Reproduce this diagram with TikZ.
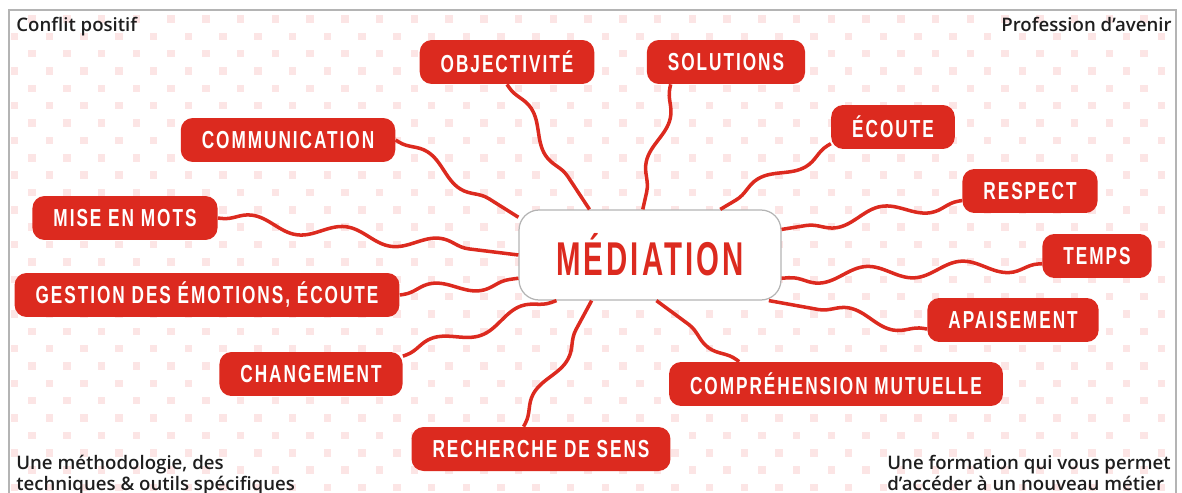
\documentclass[tikz,border=0pt]{standalone}
\usepackage{fontspec}
\setmainfont{Open Sans}[BoldFont={* Semibold}]
\newfontfamily\tagfont{Liberation Sans}[FakeStretch=0.7,LetterSpace=8]
\newfontfamily\hubfont{Liberation Sans}[FakeStretch=0.62,LetterSpace=6.5]
\usetikzlibrary{decorations.pathmorphing}
\definecolor{mapred}{HTML}{DC2A1F}
\definecolor{dotpink}{HTML}{FCE5E5}
\definecolor{framegray}{HTML}{B4B4B4}
\definecolor{inkgray}{HTML}{1E1E1E}

\begin{document}
\begin{tikzpicture}[x=0.02cm, y=-0.02cm,
  tag/.style={fill=mapred, text=white, rounded corners=0.24cm, minimum height=0.88cm, inner xsep=0.42cm,
    font={\tagfont\bfseries\fontsize{14pt}{16pt}\selectfont}},
  hub/.style={draw=framegray, line width=0.7pt, fill=white, rounded corners=0.4cm, minimum width=5.24cm,
    minimum height=1.8cm, text=mapred, font={\hubfont\bfseries\fontsize{27pt}{30pt}\selectfont}},
  wave/.style={draw=mapred, line width=2pt, decorate,
    decoration={snake, segment length=1.9cm, amplitude=0.14cm, pre length=2pt, post length=2pt}},
  note/.style={text=inkgray, inner sep=0pt, align=left, font={\bfseries\fontsize{10.6pt}{12pt}\selectfont}}]

\useasboundingbox (0,0) rectangle (1182,493);

\begin{scope}
\clip (9,10) rectangle (1176,493);
\foreach \r in {0,...,13} \foreach \c in {0,...,33} {
  \fill [dotpink] ({28.25+34.75*\c},{15.25+34.7*\r}) rectangle +(7.5,7.5);
  \fill [dotpink] ({10.85+34.75*\c},{32.6+34.7*\r}) rectangle +(7.5,7.5);
}
\end{scope}
\draw [framegray, line width=0.8pt] (9,493) -- (9,10) -- (1176,10) -- (1176,493);

\node (med) [hub] at (650,255) {MÉDIATION};

\node (obj) [tag] at (507,62) {OBJECTIVITÉ};
\node (sol) [tag] at (726,62) {SOLUTIONS};
\node (ecoute) [tag] at (893,127) {ÉCOUTE};
\node (comm) [tag] at (288,140) {COMMUNICATION};
\node (respect) [tag] at (1030,191) {RESPECT};
\node (mise) [tag] at (125,218) {MISE EN MOTS};
\node (temps) [tag] at (1097,256) {TEMPS};
\node (gestion) [tag] at (207,295) {GESTION DES ÉMOTIONS, ÉCOUTE};
\node (apais) [tag] at (1013,320) {APAISEMENT};
\node (chang) [tag] at (311,374) {CHANGEMENT};
\node (compr) [tag] at (836,384) {COMPRÉHENSION MUTUELLE};
\node (rech) [tag] at (541,449) {RECHERCHE DE SENS};

\node (n1) [note, anchor=base west] at (16,32) {Conflit positif};
\node (n2) [note, anchor=base east] at (1172,32) {Profession d’avenir};
\node (n3) [note, anchor=north west] at (16,455) {Une méthodologie, des\\techniques \& outils spécifiques};
\node (n4) [note, anchor=north west] at (887,455) {Une formation qui vous permet\\d'accéder à un nouveau métier};

\draw [wave] (obj.south) -- (med.143);
\draw [wave] (sol.202) -- (med.99);
\draw [wave] (ecoute.195) -- (med.33);
\draw [wave] (comm.east) -- (med.164);
\draw [wave] (mise.east) -- (med.west);
\draw [wave] (gestion.east) -- (med.190);
\draw [wave] (chang.11) -- (med.206);
\draw [wave] (rech.128) -- (med.218);
\draw [wave] (compr.167) -- (med.278);
\draw [wave] (apais.186) -- (med.339);
\draw [wave] (temps.188) -- (med.350);
\draw [wave] (respect.188) -- (med.11);

\end{tikzpicture}
\end{document}
